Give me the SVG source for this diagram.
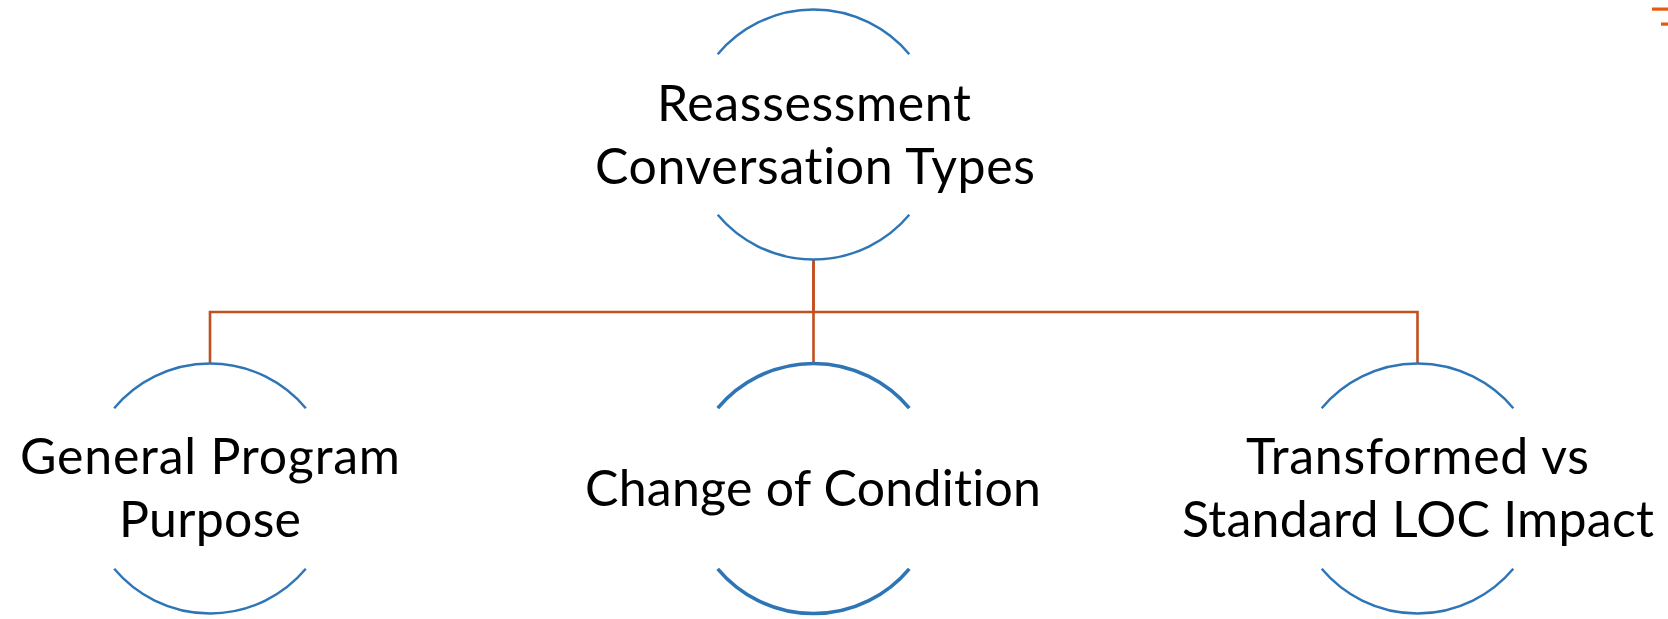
<svg xmlns="http://www.w3.org/2000/svg" width="1668" height="619" viewBox="0 0 1668 619">
  <style>
    .arc { fill: none; stroke: #2E75B6; stroke-width: 2.4; stroke-linecap: butt; }
    .arc.bold { stroke-width: 3.6; }
    .link { fill: none; stroke: #C0501E; stroke-width: 2.6; }
    .label { font-family: "Lato", "Open Sans", "Liberation Sans", sans-serif; font-size: 50px; fill: #000000; font-variant-ligatures: none; }
    .mark { fill: #E35B12; }
  </style>
  <rect width="1668" height="619" fill="#FFFFFF"/>

  <!-- elbow connectors from the root to each child -->
  <g id="connectors">
    <path class="link" d="M813.5 259.5 V312 H210 V363.5"/>
    <path class="link" d="M813.5 259.5 V363.5"/>
    <path class="link" d="M813.5 312 H1417.5 V363.5"/>
  </g>

  <!-- root -->
  <g id="node-root">
    <path class="arc" d="M717.7 54.2 A125 125 0 0 1 909.3 54.2"/>
    <path class="arc" d="M717.7 214.8 A125 125 0 0 0 909.3 214.8"/>
    <text class="label" x="657" y="121" textLength="314">Reassessment</text>
    <text class="label" x="595" y="184" textLength="440">Conversation Types</text>
  </g>

  <!-- children -->
  <g id="node-general">
    <path class="arc" d="M114.2 408.2 A125 125 0 0 1 305.8 408.2"/>
    <path class="arc" d="M114.2 568.8 A125 125 0 0 0 305.8 568.8"/>
    <text class="label" x="20" y="474" textLength="380">General Program</text>
    <text class="label" x="119" y="537" textLength="182">Purpose</text>
  </g>

  <g id="node-change">
    <path class="arc bold" d="M717.7 408.2 A125 125 0 0 1 909.3 408.2"/>
    <path class="arc bold" d="M717.7 568.8 A125 125 0 0 0 909.3 568.8"/>
    <text class="label" x="585" y="506" textLength="456">Change of Condition</text>
  </g>

  <g id="node-transformed">
    <path class="arc" d="M1321.7 408.2 A125 125 0 0 1 1513.3 408.2"/>
    <path class="arc" d="M1321.7 568.8 A125 125 0 0 0 1513.3 568.8"/>
    <text class="label" x="1246" y="474" textLength="343">Transformed vs</text>
    <text class="label" x="1182" y="537" textLength="472">Standard LOC Impact</text>
  </g>

  <!-- clipped edge marks, top right -->
  <rect class="mark" x="1652" y="7.5" width="16" height="3.2"/>
  <rect class="mark" x="1661" y="22.5" width="7" height="3.2"/>
</svg>
